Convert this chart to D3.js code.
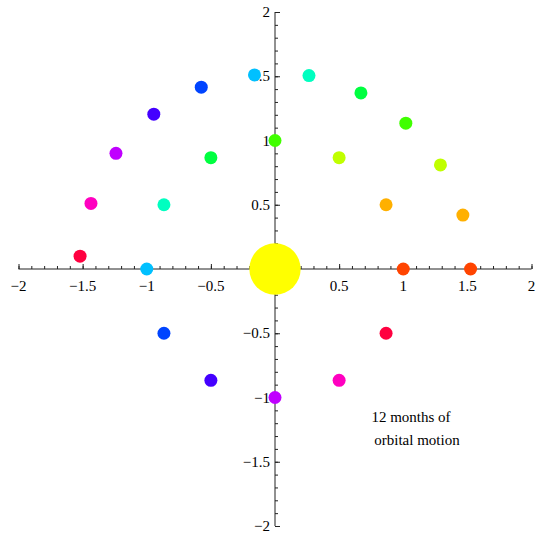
<!DOCTYPE html>
<html>
<head>
<meta charset="utf-8">
<script src="https://cdn.jsdelivr.net/npm/d3@7"></script>
<style>
  body { margin: 0; background: #fff; }
  svg { display: block; }
</style>
</head>
<body>
<div id="chart"></div>
<script>
// data
const monthColors = ["#ff4400", "#ffb000", "#c0ff00", "#40ff00", "#00ff40", "#00ffc0",
                     "#00c0ff", "#0044ff", "#4400ff", "#c000ff", "#ff00c0", "#ff0040"]
// earth, one point per month
const earthX = [1, 0.866, 0.5, 0, -0.5, -0.866, -1, -0.866, -0.5, 0, 0.5, 0.866]
const earthY = [0, 0.5, 0.866, 1, 0.866, 0.5, 0, -0.5, -0.866, -1, -0.866, -0.5]
// outer planet, one point per month
const marsX = [1.525, 1.465, 1.29, 1.02, 0.67, 0.265, -0.16, -0.575, -0.945, -1.24, -1.435, -1.52]
const marsY = [0, 0.42, 0.81, 1.135, 1.37, 1.505, 1.51, 1.415, 1.205, 0.9, 0.51, 0.1]
const sunRadius = 0.2
const tickValues = [-2, -1.5, -1, -0.5, 0.5, 1, 1.5, 2]
const minorTickValues = d3.range(-20, 21).map(d => d / 10)
const noteLines = ["12 months of", "orbital motion"]

//dimensions
const width = 536, height = 533

const svg = d3.select("#chart").append("svg")
    .attr("width", width)
    .attr("height", height)

//scales
const xScale = d3.scaleLinear().domain([-2, 2]).range([18.5, 531.5])
const yScale = d3.scaleLinear().domain([-2, 2]).range([526, 12])
const fmt = d => String(d).replace("-", "\u2212")

// axes
const xAxis = svg.append("g").attr("transform", "translate(0," + yScale(0) + ")")
xAxis.call(d3.axisTop(xScale).tickValues(minorTickValues).tickSize(3).tickFormat(""))
xAxis.append("g").call(d3.axisTop(xScale).tickValues(tickValues.concat([0])).tickSize(5).tickFormat(""))
xAxis.selectAll(".domain").remove()
xAxis.append("line").attr("x1", xScale(-2)).attr("x2", xScale(2)).attr("stroke", "#222")
xAxis.selectAll(".tick line").attr("stroke", "#222")
xAxis.append("g").selectAll("text").data(tickValues).join("text")
    .attr("x", d => xScale(d))
    .attr("y", 22)
    .attr("text-anchor", "middle")
    .attr("fill", "#000")
    .style("font-family", "Liberation Serif")
    .style("font-size", "15px")
    .text(fmt)

const yAxis = svg.append("g").attr("transform", "translate(" + xScale(0) + ",0)")
yAxis.call(d3.axisRight(yScale).tickValues(minorTickValues).tickSize(3).tickFormat(""))
yAxis.append("g").call(d3.axisRight(yScale).tickValues(tickValues.concat([0])).tickSize(5).tickFormat(""))
yAxis.selectAll(".domain").remove()
yAxis.append("line").attr("y1", yScale(-2)).attr("y2", yScale(2)).attr("stroke", "#222")
yAxis.selectAll(".tick line").attr("stroke", "#222")
yAxis.append("g").selectAll("text").data(tickValues).join("text")
    .attr("x", -5)
    .attr("y", d => yScale(d) + 5)
    .attr("text-anchor", "end")
    .attr("fill", "#000")
    .style("font-family", "Liberation Serif")
    .style("font-size", "15px")
    .text(fmt)

// sun
svg.append("circle")
    .attr("cx", xScale(0))
    .attr("cy", yScale(0))
    .attr("r", xScale(sunRadius) - xScale(0))
    .attr("fill", "#ffff00")

// planets
const drawOrbit = (xs, ys) => {
    svg.append("g").selectAll("circle").data(xs).join("circle")
        .attr("cx", d => xScale(d))
        .attr("cy", (d, i) => yScale(ys[i]))
        .attr("r", 6.5)
        .attr("fill", (d, i) => monthColors[i])
}
drawOrbit(earthX, earthY)
drawOrbit(marsX, marsY)

// note
svg.append("g").selectAll("text").data(noteLines).join("text")
    .attr("x", (d, i) => i === 0 ? 411 : 417)
    .attr("y", (d, i) => 422 + i * 23)
    .attr("text-anchor", "middle")
    .attr("fill", "#000")
    .style("font-family", "Liberation Serif")
    .style("font-size", "15px")
    .text(d => d)
</script>
</body>
</html>
